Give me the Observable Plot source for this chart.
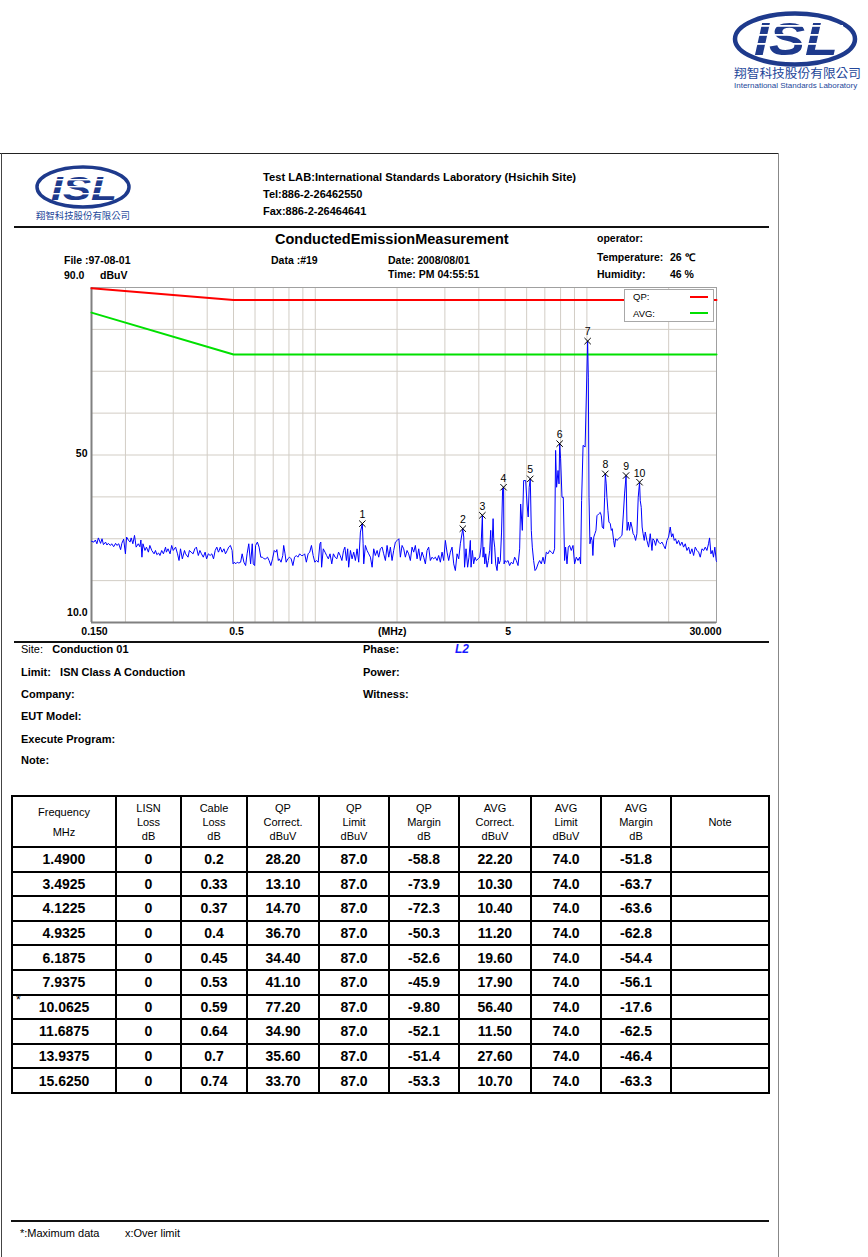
<!DOCTYPE html>
<html><head><meta charset="utf-8">
<script src="https://cdn.jsdelivr.net/npm/d3@7"></script>
<script src="https://cdn.jsdelivr.net/npm/@observablehq/plot@0.6"></script>
<style>
body{margin:0;background:#fff;}
#page{position:relative;width:868px;height:1257px;overflow:hidden;font-family:"Liberation Sans",Arial,sans-serif;color:#000;background:#fff;}
.t{position:absolute;white-space:nowrap;line-height:1;font-size:10.5px;font-weight:bold;}
.s{font-size:11px;}
.n{font-weight:normal;}
.ln{position:absolute;background:#111;}
#chart{position:absolute;left:41px;top:262px;}
#legend{position:absolute;left:624px;top:289px;width:88px;height:31px;border:1px solid #a8a8a8;background:#fff;}
#legend div{position:absolute;font-size:9.5px;line-height:1;}
#legend span{position:absolute;height:2px;width:18px;left:65px;}
#tbl{position:absolute;left:11px;top:795px;}
table{border-collapse:collapse;table-layout:fixed;width:757px;}
td{border:2px solid #000;text-align:center;padding:0;}
thead td{height:49px;font-size:11px;line-height:14px;font-weight:normal;}
tbody td{height:22.6px;font-size:14px;font-weight:bold;line-height:1;}
</style></head>
<body><div id="page">

<!-- top right logo -->
<svg style="position:absolute;left:725px;top:0" width="143" height="95">
 <ellipse cx="70" cy="39" rx="60" ry="25.5" fill="#fff" stroke="#1e3a8c" stroke-width="4.5"/>
 <text x="29" y="55" font-family="Liberation Sans, Arial" font-size="46" font-weight="bold" font-style="italic" fill="#1e3a8c" textLength="84" lengthAdjust="spacingAndGlyphs">ISL</text>
 <rect x="26" y="25" width="92" height="1.8" fill="#fff"/>
 <rect x="26" y="34" width="92" height="1.8" fill="#fff"/>
 <rect x="26" y="43" width="92" height="1.8" fill="#fff"/>
 <text x="9" y="78" font-family="Noto Sans CJK TC" font-size="12" fill="#24479a" textLength="127" lengthAdjust="spacingAndGlyphs">翔智科技股份有限公司</text>
 <text x="9" y="88" font-family="Liberation Sans, Arial" font-size="8" fill="#24479a">International Standards Laboratory</text>
</svg>

<!-- page frame -->
<div class="ln" style="left:0;top:153px;width:779px;height:1px;background:#222"></div>
<div class="ln" style="left:1px;top:153px;width:1px;height:1110px;background:#444"></div>
<div class="ln" style="left:778px;top:153px;width:1px;height:1110px;background:#888"></div>

<!-- small logo -->
<svg style="position:absolute;left:30px;top:160px" width="110" height="65">
 <ellipse cx="53" cy="27" rx="46" ry="20" fill="#fff" stroke="#1e3a8c" stroke-width="3.5"/>
 <text x="21" y="40" font-family="Liberation Sans, Arial" font-size="34" font-weight="bold" font-style="italic" fill="#1e3a8c" textLength="66" lengthAdjust="spacingAndGlyphs">ISL</text>
 <rect x="18" y="19" width="72" height="1.4" fill="#fff"/>
 <rect x="18" y="26" width="72" height="1.4" fill="#fff"/>
 <rect x="18" y="33" width="72" height="1.4" fill="#fff"/>
 <text x="6" y="59" font-family="Noto Sans CJK TC" font-size="9.5" fill="#24479a" textLength="94" lengthAdjust="spacingAndGlyphs">翔智科技股份有限公司</text>
</svg>

<div class="t s" style="left:263px;top:171.5px;font-size:11.2px">Test LAB:International Standards Laboratory (Hsichih Site)</div>
<div class="t s" style="left:263px;top:188.5px">Tel:886-2-26462550</div>
<div class="t s" style="left:263px;top:205.5px">Fax:886-2-26464641</div>
<div class="ln" style="left:14px;top:226px;width:755px;height:1.5px"></div>

<div class="t" style="left:275px;top:232px;font-size:14.5px">ConductedEmissionMeasurement</div>
<div class="t" style="left:597px;top:233px">operator:</div>
<div class="t" style="left:64px;top:255px">File :97-08-01</div>
<div class="t" style="left:271px;top:255px">Data :#19</div>
<div class="t" style="left:388px;top:255px">Date: 2008/08/01</div>
<div class="t" style="left:597px;top:251.5px">Temperature:</div>
<div class="t" style="left:670px;top:251.5px">26 ℃</div>
<div class="t" style="left:64px;top:269.5px">90.0</div>
<div class="t" style="left:100px;top:269.5px">dBuV</div>
<div class="t" style="left:388px;top:269px">Time: PM 04:55:51</div>
<div class="t" style="left:597px;top:269px">Humidity:</div>
<div class="t" style="left:670px;top:269px">46 %</div>

<div id="chart"></div>
<div id="legend">
 <div style="left:8px;top:2px">QP:</div><span style="top:6px;background:#ff0000"></span>
 <div style="left:8px;top:19px">AVG:</div><span style="top:22px;background:#00e000"></span>
</div>

<div class="ln" style="left:14px;top:641px;width:755px;height:1.5px"></div>
<div class="t s" style="left:21px;top:644px"><span class="n">Site:</span>&nbsp;&nbsp; Conduction 01</div>
<div class="t s" style="left:363px;top:644px">Phase:</div>
<div class="t" style="left:455px;top:643px;font-size:12px;color:#1a1aff;font-style:italic">L2</div>
<div class="t s" style="left:21px;top:667px">Limit:&nbsp;&nbsp; ISN Class A Conduction</div>
<div class="t s" style="left:363px;top:667px">Power:</div>
<div class="t s" style="left:21px;top:689px">Company:</div>
<div class="t s" style="left:363px;top:689px">Witness:</div>
<div class="t s" style="left:21px;top:710.5px">EUT Model:</div>
<div class="t s" style="left:21px;top:733.5px">Execute Program:</div>
<div class="t s" style="left:21px;top:755px">Note:</div>

<div id="tbl"></div>
<div class="t n" style="left:16px;top:994px;font-size:12px">*</div>

<div class="ln" style="left:11px;top:1220px;width:758px;height:1.5px"></div>
<div class="t n" style="left:20px;top:1228px;font-size:11px">*:Maximum data</div>
<div class="t n" style="left:125px;top:1228px;font-size:11px">x:Over limit</div>
</div>

<script>
// ---------- chart data ----------
const traceMHz = [0.150,0.153,0.155,0.157,0.159,0.162,0.164,0.166,0.169,0.171,0.173,0.176,0.178,0.181,0.184,0.186,0.189,0.192,0.194,0.197,0.200,0.202,0.205,0.208,0.210,0.213,0.216,0.219,0.223,0.226,0.228,0.230,0.232,0.236,0.239,0.243,0.246,0.250,0.255,0.258,0.261,0.265,0.268,0.272,0.276,0.281,0.283,0.287,0.292,0.296,0.300,0.306,0.311,0.315,0.319,0.324,0.330,0.333,0.340,0.344,0.349,0.355,0.360,0.365,0.371,0.376,0.381,0.387,0.393,0.398,0.404,0.410,0.416,0.422,0.428,0.434,0.440,
0.443,0.447,0.454,0.461,0.467,0.474,0.480,0.487,0.494,0.498,0.504,0.509,0.516,0.523,0.531,0.538,0.546,0.554,0.561,0.569,0.578,0.586,0.591,0.598,0.603,0.612,0.621,0.630,0.639,0.648,0.657,0.667,0.676,0.686,0.696,0.706,0.716,0.722,0.731,0.737,0.748,0.759,0.765,0.774,0.781,0.792,0.804,0.815,0.827,0.839,0.851,0.863,0.876,0.888,0.901,0.914,0.927,0.941,0.954,0.968,0.982,0.996,1.010,1.025,1.040,1.048,1.055,1.070,1.086,1.101,1.117,1.133,1.150,1.166,1.183,1.200,1.218,1.235,1.253,1.271,1.285,
1.302,1.316,1.327,1.347,1.366,1.385,1.405,1.425,1.445,1.466,1.490,1.500,1.508,1.529,1.551,1.573,1.596,1.619,1.641,1.664,1.689,1.712,1.736,1.762,1.786,1.812,1.838,1.864,1.890,1.917,1.944,1.972,2.003,2.031,2.057,2.087,2.116,2.146,2.177,2.207,2.239,2.271,2.303,2.336,2.370,2.403,2.437,2.472,2.507,2.543,2.579,2.615,2.652,2.691,2.728,2.767,2.808,2.846,2.887,2.929,2.970,3.012,3.055,3.098,3.142,3.188,3.233,3.279,3.326,3.373,3.420,3.4925,3.520,3.545,3.589,3.638,3.680,3.723,
3.745,3.786,3.829,3.874,3.917,3.975,4.031,4.075,4.1225,4.145,4.175,4.206,4.241,4.290,4.338,4.386,4.424,4.461,4.488,4.515,4.538,4.576,4.615,4.670,4.710,4.750,4.800,4.850,4.895,4.9325,4.955,4.995,5.050,5.123,5.193,5.269,5.345,5.419,5.497,5.577,5.654,5.702,5.784,5.849,5.950,6.020,6.080,6.130,6.1875,6.242,6.295,6.365,6.441,6.512,6.607,6.698,6.794,6.893,6.987,7.088,7.191,7.290,7.395,7.502,7.605,7.670,7.735,7.828,7.894,7.9375,8.002,8.096,8.186,8.277,8.348,8.447,8.541,8.636,8.760,8.888,9.010,9.139,9.272,9.400,9.480,9.560,9.680,9.850,10.0625,10.120,10.180,10.260,10.360,10.450,10.520,10.600,10.700,10.800,
10.89,11.04,11.20,11.30,11.39,11.52,11.62,11.6875,11.78,11.85,11.95,12.05,12.19,12.30,12.40,12.54,12.65,12.75,12.90,13.09,13.27,13.46,13.62,13.76,13.9375,14.00,14.06,14.20,14.35,14.50,14.65,14.80,14.95,15.11,15.28,15.45,15.625,15.72,15.85,15.97,16.10,16.26,16.40,16.63,16.87,17.11,17.36,17.50,17.70,17.90,18.11,18.36,18.62,18.90,19.16,19.43,19.71,19.98,20.27,20.50,20.73,20.97,21.20,21.45,21.75,22.06,22.38,22.69,23.02,23.35,23.69,24.01,24.36,24.71,25.05,25.42,25.78,26.14,26.52,26.91,27.27,27.66,28.04,28.29,28.62,28.93,29.24,29.58,29.93,30.0];
const traceDb = [29.4,29.2,29.7,28.8,30.2,28.9,30.0,28.6,29.2,28.5,28.9,28.4,28.8,28.1,28.9,28.4,28.8,27.4,28.9,29.9,26.4,30.4,29.7,29.2,30.2,28.8,30.8,28.0,28.8,28.1,29.7,25.6,28.8,27.2,28.0,26.8,28.4,27.2,26.4,27.2,26.2,26.6,26.0,27.2,26.4,28.0,26.8,27.6,26.4,28.4,27.2,28.0,26.4,24.8,27.6,25.2,27.2,26.4,25.6,27.2,26.8,26.4,27.6,28.0,26.0,27.2,26.4,25.6,26.8,25.2,26.4,26.0,26.4,25.2,27.2,28.0,26.8,
27.2,28.0,26.8,27.6,26.4,27.2,28.0,28.4,27.2,24.0,24.4,24.0,24.4,24.2,24.4,26.4,24.4,23.6,26.4,28.8,24.0,28.8,24.0,23.6,28.4,29.2,28.0,25.6,25.6,25.2,25.2,25.6,24.8,23.6,25.2,27.2,26.8,27.4,24.8,25.2,24.4,26.0,28.4,26.4,24.4,25.2,25.6,25.2,23.6,25.6,26.0,25.6,26.4,26.0,26.0,26.4,24.4,26.4,26.8,28.4,26.0,24.4,24.8,24.4,28.8,29.2,23.2,27.6,26.8,26.0,25.2,26.4,24.0,26.4,25.6,25.2,26.8,26.0,24.8,27.2,28.0,
24.8,27.6,23.2,27.2,25.2,26.8,24.8,27.6,24.4,31.6,33.6,28.8,24.0,28.4,27.2,26.4,25.6,23.2,27.6,26.0,27.2,25.6,27.6,28.0,26.4,24.8,28.4,25.6,28.0,24.8,27.2,29.2,29.6,30.0,25.6,28.4,27.6,25.6,27.2,26.4,24.8,28.0,26.8,28.4,25.2,27.6,24.8,26.8,25.6,24.0,27.2,28.0,24.8,25.6,25.2,25.6,24.8,26.0,24.4,26.8,24.8,29.6,26.8,24.8,26.8,28.0,24.0,22.4,26.4,25.2,28.8,32.4,30.4,23.2,27.6,23.2,25.6,29.6,
23.2,27.2,24.0,25.6,24.8,25.2,25.6,28.0,35.6,25.6,28.0,24.0,26.4,23.2,24.8,27.2,32.0,24.0,30.4,34.8,30.0,28.0,24.0,22.4,25.6,24.0,24.8,31.6,42.0,42.3,24.0,24.8,24.4,24.8,23.6,24.4,24.0,25.6,24.8,23.6,27.6,38.3,32.0,43.9,43.9,38.3,35.2,42.3,44.3,32.0,28.0,24.8,22.4,22.8,24.0,24.8,24.0,25.6,24.0,26.8,26.4,27.2,26.8,26.4,27.6,51.1,42.3,46.3,43.1,52.7,49.1,39.9,39.9,24.8,28.0,24.0,28.0,28.4,27.2,28.4,24.0,25.6,24.8,25.6,24.0,39.1,52.3,51.9,77.2,68.6,39.9,28.8,30.4,29.6,26.0,30.4,31.2,32.0,
35.5,35.9,36.3,35.5,32.8,32.4,39.9,45.5,43.1,39.9,36.7,34.0,33.6,32.0,32.4,29.6,28.0,30.0,29.6,30.0,30.4,30.8,35.9,40.7,45.1,38.3,32.0,34.0,32.0,34.0,32.8,31.2,30.8,29.6,31.2,39.9,43.5,39.1,37.5,32.8,31.2,29.6,31.6,29.6,28.0,31.2,27.2,30.0,29.6,28.4,30.0,29.2,28.8,29.2,28.4,27.6,29.6,30.4,32.8,30.4,31.2,29.6,30.0,28.8,29.6,28.4,29.2,28.0,28.8,27.2,28.0,26.4,27.6,26.0,28.0,27.2,26.8,25.6,27.6,27.2,28.0,27.2,28.8,30.2,26.4,27.2,25.6,28.0,24.8,24.6];

const limitMHz = [0.15, 0.5, 30];
const qpLimitDb = [89.8, 87, 87];
const avgLimitDb = [84, 74, 74];

const markerNo = [1,2,3,4,5,6,7,8,9,10];
const markerDb = [33.6, 32.4, 35.6, 42.3, 44.3, 52.7, 77.2, 45.5, 45.1, 43.5];

const gridMHz = [0.2,0.3,0.4,0.5,0.6,0.7,0.8,0.9,1,2,3,4,5,6,7,8,9,10,20];
const gridDb = [20,30,40,50,60,70,80];
const xTickMHz = [0.15, 0.5, 5];
const xTickLabels = ["0.150", "0.5", "5"];
const xEndLabel = "30.000";
const xUnitLabel = "(MHz)";
const yTickLabels = ["50", "10.0"];

// ---------- table data ----------
const tblFreq = ["1.4900","3.4925","4.1225","4.9325","6.1875","7.9375","10.0625","11.6875","13.9375","15.6250"];
const tblLisn = ["0","0","0","0","0","0","0","0","0","0"];
const tblCable = ["0.2","0.33","0.37","0.4","0.45","0.53","0.59","0.64","0.7","0.74"];
const tblQpCorr = ["28.20","13.10","14.70","36.70","34.40","41.10","77.20","34.90","35.60","33.70"];
const tblQpLimit = ["87.0","87.0","87.0","87.0","87.0","87.0","87.0","87.0","87.0","87.0"];
const tblQpMargin = ["-58.8","-73.9","-72.3","-50.3","-52.6","-45.9","-9.80","-52.1","-51.4","-53.3"];
const tblAvgCorr = ["22.20","10.30","10.40","11.20","19.60","17.90","56.40","11.50","27.60","10.70"];
const tblAvgLimit = ["74.0","74.0","74.0","74.0","74.0","74.0","74.0","74.0","74.0","74.0"];
const tblAvgMargin = ["-51.8","-63.7","-63.6","-62.8","-54.4","-56.1","-17.6","-62.5","-46.4","-63.3"];
const tblHeaders = ["Frequency<br>MHz","LISN<br>Loss<br>dB","Cable<br>Loss<br>dB","QP<br>Correct.<br>dBuV","QP<br>Limit<br>dBuV","QP<br>Margin<br>dB","AVG<br>Correct.<br>dBuV","AVG<br>Limit<br>dBuV","AVG<br>Margin<br>dB","Note"];
const colWidths = [104,65,66,72,70,70,72,70,70,98];

// ---------- build chart ----------
const trace = traceMHz.map((f, i) => ({f, db: traceDb[i]}));
const qp = limitMHz.map((f, i) => ({f, db: qpLimitDb[i]}));
const avg = limitMHz.map((f, i) => ({f, db: avgLimitDb[i]}));
const markers = markerNo.map((n, i) => ({n, f: +tblFreq[i], db: markerDb[i]}));
const ff = '"Liberation Sans", Arial, sans-serif';

const chart = Plot.plot({
  width: 690, height: 378,
  marginLeft: 50, marginRight: 15, marginTop: 25, marginBottom: 18,
  style: {fontFamily: ff, fontSize: "10px", background: "transparent", overflow: "visible"},
  x: {type: "log", domain: [0.15, 30], axis: null},
  y: {domain: [10, 90], axis: null},
  marks: [
    Plot.ruleX(gridMHz, {stroke: "#d2cdc5", strokeWidth: 1}),
    Plot.ruleY(gridDb, {stroke: "#d2cdc5", strokeWidth: 1}),
    Plot.frame({stroke: "#a0a0a0"}),
    Plot.ruleX([0.15], {stroke: "#808080", strokeWidth: 2}),
    Plot.ruleY([10], {stroke: "#808080", strokeWidth: 2}),
    Plot.line(qp, {x: "f", y: "db", stroke: "#ff0000", strokeWidth: 2}),
    Plot.line(avg, {x: "f", y: "db", stroke: "#00e000", strokeWidth: 2}),
    Plot.line(trace, {x: "f", y: "db", stroke: "#0000ff", strokeWidth: 1}),
    Plot.dot(markers, {x: "f", y: "db", symbol: "times", r: 3, stroke: "#000", strokeWidth: 1}),
    Plot.text(markers, {x: "f", y: "db", text: d => String(d.n), dy: -9, fontSize: 10.5, fill: "#000"}),
    Plot.text(xTickMHz, {x: d => d, y: () => 10, text: (d, i) => xTickLabels[i], dy: 9, dx: 3, fontWeight: "bold", fontSize: 10.5}),
    Plot.text([30], {x: d => d, y: () => 10, text: () => xEndLabel, dy: 9, dx: 5, textAnchor: "end", fontWeight: "bold", fontSize: 10.5}),
    Plot.text([1.92], {x: d => d, y: () => 10, text: () => xUnitLabel, dy: 9, fontWeight: "bold", fontSize: 10.5}),
    Plot.text([50], {x: () => 0.15, y: d => d, text: () => yTickLabels[0], dx: -4, dy: -1.5, textAnchor: "end", fontWeight: "bold", fontSize: 10.5}),
    Plot.text([10], {x: () => 0.15, y: d => d, text: () => yTickLabels[1], dx: -4, dy: -10, textAnchor: "end", fontWeight: "bold", fontSize: 10.5})
  ]
});
document.getElementById("chart").appendChild(chart);

// ---------- build table ----------
let html = "<table><colgroup>" + colWidths.map(w => `<col style="width:${w}px">`).join("") + "</colgroup>";
html += "<thead><tr>" + tblHeaders.map((h, i) => `<td${i===0?' style="line-height:20px"':''}>${h}</td>`).join("") + "</tr></thead><tbody>";
for (let i = 0; i < tblFreq.length; i++) {
  const row = [tblFreq[i], tblLisn[i], tblCable[i], tblQpCorr[i], tblQpLimit[i], tblQpMargin[i], tblAvgCorr[i], tblAvgLimit[i], tblAvgMargin[i], ""];
  html += "<tr>" + row.map(v => `<td>${v}</td>`).join("") + "</tr>";
}
html += "</tbody></table>";
document.getElementById("tbl").innerHTML = html;
</script>
</body></html>
